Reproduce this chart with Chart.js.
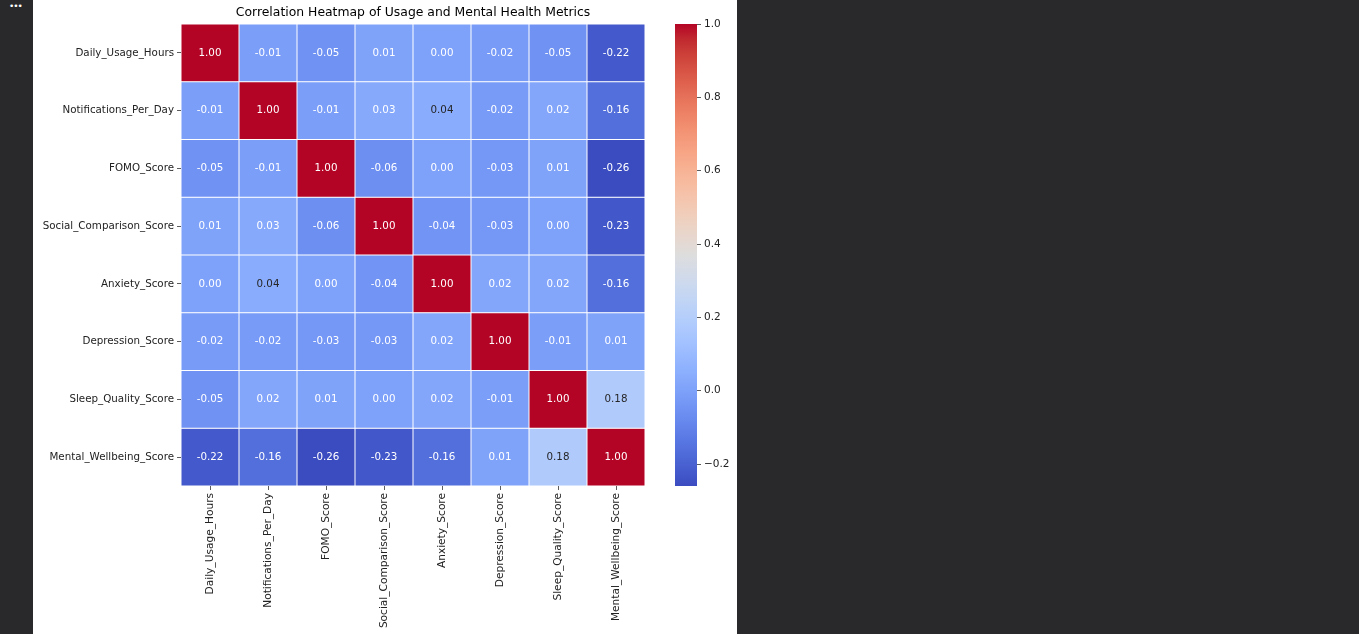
<!DOCTYPE html>
<html>
<head>
<meta charset="utf-8">
<script src="https://cdn.jsdelivr.net/npm/chart.js@4.4.0/dist/chart.umd.min.js"></script>
<style>
  html, body { margin: 0; padding: 0; background: #29292b; overflow: hidden; }
  #panel { position: absolute; left: 33px; top: 0; width: 704px; height: 634px; background: #fff; }
  #dots { position: absolute; left: 9px; top: 1px; color: #fff; font: 9px 'DejaVu Sans'; letter-spacing: -1px; }
  #heat { position: absolute; left: 33px; top: 0; width: 612px; height: 634px; }
  #cbar { position: absolute; left: 670px; top: 0; width: 67px; height: 634px; }
</style>
</head>
<body>
<div id="dots">•••</div>
<div id="panel"></div>
<div id="heat"><canvas id="heatCanvas"></canvas></div>
<div id="cbar"><canvas id="cbarCanvas"></canvas></div>
<script>
const metrics = [
  'Daily_Usage_Hours', 'Notifications_Per_Day', 'FOMO_Score', 'Social_Comparison_Score',
  'Anxiety_Score', 'Depression_Score', 'Sleep_Quality_Score', 'Mental_Wellbeing_Score'
];

const corr = [
  [ 1.00, -0.01, -0.05,  0.01,  0.00, -0.02, -0.05, -0.22],
  [-0.01,  1.00, -0.01,  0.03,  0.04, -0.02,  0.02, -0.16],
  [-0.05, -0.01,  1.00, -0.06,  0.00, -0.03,  0.01, -0.26],
  [ 0.01,  0.03, -0.06,  1.00, -0.04, -0.03,  0.00, -0.23],
  [ 0.00,  0.04,  0.00, -0.04,  1.00,  0.02,  0.02, -0.16],
  [-0.02, -0.02, -0.03, -0.03,  0.02,  1.00, -0.01,  0.01],
  [-0.05,  0.02,  0.01,  0.00,  0.02, -0.01,  1.00,  0.18],
  [-0.22, -0.16, -0.26, -0.23, -0.16,  0.01,  0.18,  1.00]
];

const colorbarTicks = [-0.2, 0.0, 0.2, 0.4, 0.6, 0.8, 1.0];
const vmin = -0.26;
const vmax = 1.0;

// coolwarm lookup (33 stops)
const coolwarm = [
  [59,76,192],[68,90,204],[77,104,215],[87,117,225],[98,130,234],[108,142,241],
  [119,154,247],[130,165,251],[141,176,254],[152,185,255],[163,194,255],[174,201,253],
  [184,208,249],[194,213,244],[204,217,238],[213,219,230],[221,221,221],[229,216,209],
  [236,211,197],[241,204,184],[245,196,172],[247,187,159],[247,177,147],[247,166,134],
  [244,154,123],[241,141,111],[236,127,99],[229,112,89],[222,96,77],[213,80,66],
  [203,62,56],[192,40,47],[180,4,38]
];

function cmap(v) {
  let t = (v - vmin) / (vmax - vmin);
  t = Math.max(0, Math.min(1, t)) * (coolwarm.length - 1);
  const i = Math.min(Math.floor(t), coolwarm.length - 2);
  const f = t - i;
  const a = coolwarm[i], b = coolwarm[i + 1];
  return a.map((c, k) => Math.round(c + (b[k] - c) * f));
}
const rgb = c => `rgb(${c[0]},${c[1]},${c[2]})`;

function textColor(v) {
  const lin = cmap(v).map(c => {
    c = c / 255;
    return c <= 0.03928 ? c / 12.92 : Math.pow((c + 0.055) / 1.055, 2.4);
  });
  const lum = 0.2126 * lin[0] + 0.7152 * lin[1] + 0.0722 * lin[2];
  return lum > 0.408 ? '#262626' : '#ffffff';
}

Chart.defaults.font.family = "'DejaVu Sans', sans-serif";
Chart.defaults.font.size = 10.3;
Chart.defaults.color = '#222';

const tickGrid = {
  display: true, drawOnChartArea: false, drawTicks: true,
  tickLength: 4, color: '#333', lineWidth: 0.8
};

// cell value labels + title
const annotPlugin = {
  id: 'annot',
  afterDatasetsDraw(chart) {
    const ctx = chart.ctx;
    ctx.save();
    ctx.font = "10.3px 'DejaVu Sans'";
    ctx.textAlign = 'center';
    ctx.textBaseline = 'middle';
    chart.data.datasets.forEach((ds, r) => {
      chart.getDatasetMeta(r).data.forEach((el, c) => {
        const v = corr[r][c];
        const p = el.getCenterPoint();
        ctx.fillStyle = textColor(v);
        ctx.fillText(v.toFixed(2), p.x, p.y);
      });
    });
    const area = chart.chartArea;
    ctx.fillStyle = '#000';
    ctx.font = "12.4px 'DejaVu Sans'";
    ctx.fillText('Correlation Heatmap of Usage and Mental Health Metrics', (area.left + area.right) / 2, 13);
    ctx.restore();
  }
};

new Chart(document.getElementById('heatCanvas'), {
  type: 'bar',
  data: {
    labels: metrics,
    datasets: corr.map((row, r) => ({
      data: row.map(() => [r, r + 1]),
      backgroundColor: row.map(v => rgb(cmap(v))),
      borderColor: '#ffffff',
      borderWidth: 0.5,
      borderSkipped: false,
      inflateAmount: 0,
      grouped: false,
      barPercentage: 1,
      categoryPercentage: 1
    }))
  },
  options: {
    responsive: true,
    maintainAspectRatio: false,
    animation: false,
    layout: { padding: { top: 24, left: 0, right: 0, bottom: 0 } },
    plugins: { legend: { display: false }, tooltip: { enabled: false } },
    scales: {
      x: {
        type: 'category',
        offset: true,
        grid: { ...tickGrid, offset: false },
        border: { display: false },
        ticks: { autoSkip: false, minRotation: 90, maxRotation: 90, padding: 3, color: '#222', font: { size: 10.6 } },
        afterFit(scale) { scale.height = 148; }
      },
      y: {
        type: 'linear',
        reverse: true,
        min: 0,
        max: metrics.length,
        grid: tickGrid,
        border: { display: false },
        afterBuildTicks(scale) { scale.ticks = metrics.map((_, i) => ({ value: i + 0.5 })); },
        ticks: { padding: 3, color: '#222', font: { size: 10.3 }, callback: v => metrics[Math.floor(v)] },
        afterFit(scale) { scale.width = 148; }
      }
    }
  },
  plugins: [annotPlugin]
});

// colorbar
new Chart(document.getElementById('cbarCanvas'), {
  type: 'bar',
  data: {
    labels: [''],
    datasets: [{
      data: [[vmin, vmax]],
      barPercentage: 1,
      categoryPercentage: 1,
      borderWidth: 0,
      inflateAmount: 0,
      backgroundColor(ctx) {
        const chart = ctx.chart;
        if (!chart.chartArea) return null;
        const ys = chart.scales.y;
        const g = chart.ctx.createLinearGradient(0, ys.getPixelForValue(vmin), 0, ys.getPixelForValue(vmax));
        coolwarm.forEach((c, i) => g.addColorStop(i / (coolwarm.length - 1), rgb(c)));
        return g;
      }
    }]
  },
  options: {
    responsive: true,
    maintainAspectRatio: false,
    animation: false,
    layout: { padding: { top: 24, left: 5, right: 0, bottom: 148 } },
    plugins: { legend: { display: false }, tooltip: { enabled: false } },
    scales: {
      x: { display: false },
      y: {
        position: 'right',
        min: vmin,
        max: vmax,
        grid: tickGrid,
        border: { display: false },
        afterBuildTicks(scale) { scale.ticks = colorbarTicks.map(v => ({ value: v })); },
        ticks: {
          padding: 3, color: '#222', font: { size: 10.5 },
          callback: v => (v < 0 ? '\u2212' : '') + Math.abs(v).toFixed(1)
        },
        afterFit(scale) { scale.width = 40; }
      }
    }
  }
});
</script>
</body>
</html>
